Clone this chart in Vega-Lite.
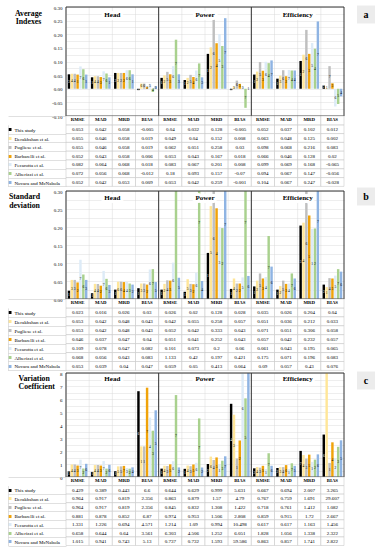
{
"$schema":"https://vega.github.io/schema/vega-lite/v6.json",
"autosize":"none","width":278,"height":550,
"padding":{"left":66,"right":36,"top":0,"bottom":0},
"background":"white",
"config":{"view":{"stroke":null},"font":"Liberation Serif","text":{"font":"Liberation Serif","color":"#000"},
 "axis":{"labelFont":"Liberation Serif","titleFont":"Liberation Serif","labelColor":"#000","titleColor":"#000"},
 "axisX":{"disable":true}},
"datasets":{
"cols":[{"c":"Head RMSE","m":"RMSE"},{"c":"Head MAD","m":"MAD"},{"c":"Head MRD","m":"MRD"},{"c":"Head BIAS","m":"BIAS"},{"c":"Power RMSE","m":"RMSE"},{"c":"Power MAD","m":"MAD"},{"c":"Power MRD","m":"MRD"},{"c":"Power BIAS","m":"BIAS"},{"c":"Efficiency RMSE","m":"RMSE"},{"c":"Efficiency MAD","m":"MAD"},{"c":"Efficiency MRD","m":"MRD"},{"c":"Efficiency BIAS","m":"BIAS"}],
"a":[
{"s":"This study","c":"Head RMSE","v":0.053,"r":3},{"s":"This study","c":"Head MAD","v":0.042,"r":1},{"s":"This study","c":"Head MRD","v":0.058,"r":2},{"s":"This study","c":"Head BIAS","v":-0.005,"r":1},{"s":"This study","c":"Power RMSE","v":0.04,"r":1},{"s":"This study","c":"Power MAD","v":0.032,"r":1},{"s":"This study","c":"Power MRD","v":0.128,"r":1},{"s":"This study","c":"Power BIAS","v":-0.005,"r":2},{"s":"This study","c":"Efficiency RMSE","v":0.052,"r":1},{"s":"This study","c":"Efficiency MAD","v":0.037,"r":1},{"s":"This study","c":"Efficiency MRD","v":0.102,"r":1},{"s":"This study","c":"Efficiency BIAS","v":0.012,"r":2},
{"s":"Derakhshan et al.","c":"Head RMSE","v":0.055,"r":4},{"s":"Derakhshan et al.","c":"Head MAD","v":0.046,"r":4},{"s":"Derakhshan et al.","c":"Head MRD","v":0.058,"r":2},{"s":"Derakhshan et al.","c":"Head BIAS","v":0.019,"r":6},{"s":"Derakhshan et al.","c":"Power RMSE","v":0.049,"r":2},{"s":"Derakhshan et al.","c":"Power MAD","v":0.04,"r":2},{"s":"Derakhshan et al.","c":"Power MRD","v":0.152,"r":2},{"s":"Derakhshan et al.","c":"Power BIAS","v":0.008,"r":3},{"s":"Derakhshan et al.","c":"Efficiency RMSE","v":0.063,"r":2},{"s":"Derakhshan et al.","c":"Efficiency MAD","v":0.048,"r":3},{"s":"Derakhshan et al.","c":"Efficiency MRD","v":0.125,"r":2},{"s":"Derakhshan et al.","c":"Efficiency BIAS","v":0.002,"r":1},
{"s":"Pugliese et al.","c":"Head RMSE","v":0.055,"r":4},{"s":"Pugliese et al.","c":"Head MAD","v":0.046,"r":4},{"s":"Pugliese et al.","c":"Head MRD","v":0.058,"r":2},{"s":"Pugliese et al.","c":"Head BIAS","v":0.019,"r":6},{"s":"Pugliese et al.","c":"Power RMSE","v":0.062,"r":5},{"s":"Pugliese et al.","c":"Power MAD","v":0.051,"r":5},{"s":"Pugliese et al.","c":"Power MRD","v":0.258,"r":6},{"s":"Pugliese et al.","c":"Power BIAS","v":0.03,"r":6},{"s":"Pugliese et al.","c":"Efficiency RMSE","v":0.098,"r":5},{"s":"Pugliese et al.","c":"Efficiency MAD","v":0.068,"r":6},{"s":"Pugliese et al.","c":"Efficiency MRD","v":0.216,"r":6},{"s":"Pugliese et al.","c":"Efficiency BIAS","v":0.083,"r":7},
{"s":"Barbarelli et al.","c":"Head RMSE","v":0.052,"r":1},{"s":"Barbarelli et al.","c":"Head MAD","v":0.043,"r":3},{"s":"Barbarelli et al.","c":"Head MRD","v":0.058,"r":2},{"s":"Barbarelli et al.","c":"Head BIAS","v":0.006,"r":2},{"s":"Barbarelli et al.","c":"Power RMSE","v":0.053,"r":3},{"s":"Barbarelli et al.","c":"Power MAD","v":0.043,"r":4},{"s":"Barbarelli et al.","c":"Power MRD","v":0.167,"r":4},{"s":"Barbarelli et al.","c":"Power BIAS","v":0.018,"r":5},{"s":"Barbarelli et al.","c":"Efficiency RMSE","v":0.066,"r":3},{"s":"Barbarelli et al.","c":"Efficiency MAD","v":0.046,"r":2},{"s":"Barbarelli et al.","c":"Efficiency MRD","v":0.128,"r":3},{"s":"Barbarelli et al.","c":"Efficiency BIAS","v":0.02,"r":3},
{"s":"Fecarotta et al.","c":"Head RMSE","v":0.082,"r":7},{"s":"Fecarotta et al.","c":"Head MAD","v":0.064,"r":7},{"s":"Fecarotta et al.","c":"Head MRD","v":0.068,"r":6},{"s":"Fecarotta et al.","c":"Head BIAS","v":0.018,"r":5},{"s":"Fecarotta et al.","c":"Power RMSE","v":0.083,"r":6},{"s":"Fecarotta et al.","c":"Power MAD","v":0.067,"r":6},{"s":"Fecarotta et al.","c":"Power MRD","v":0.201,"r":5},{"s":"Fecarotta et al.","c":"Power BIAS","v":0.008,"r":3},{"s":"Fecarotta et al.","c":"Efficiency RMSE","v":0.099,"r":6},{"s":"Fecarotta et al.","c":"Efficiency MAD","v":0.069,"r":7},{"s":"Fecarotta et al.","c":"Efficiency MRD","v":0.168,"r":5},{"s":"Fecarotta et al.","c":"Efficiency BIAS","v":-0.065,"r":6},
{"s":"Alberizzi et al.","c":"Head RMSE","v":0.072,"r":6},{"s":"Alberizzi et al.","c":"Head MAD","v":0.056,"r":6},{"s":"Alberizzi et al.","c":"Head MRD","v":0.068,"r":6},{"s":"Alberizzi et al.","c":"Head BIAS","v":-0.012,"r":4},{"s":"Alberizzi et al.","c":"Power RMSE","v":0.18,"r":7},{"s":"Alberizzi et al.","c":"Power MAD","v":0.093,"r":7},{"s":"Alberizzi et al.","c":"Power MRD","v":0.157,"r":3},{"s":"Alberizzi et al.","c":"Power BIAS","v":-0.07,"r":7},{"s":"Alberizzi et al.","c":"Efficiency RMSE","v":0.094,"r":4},{"s":"Alberizzi et al.","c":"Efficiency MAD","v":0.067,"r":4},{"s":"Alberizzi et al.","c":"Efficiency MRD","v":0.147,"r":4},{"s":"Alberizzi et al.","c":"Efficiency BIAS","v":-0.056,"r":5},
{"s":"Novara and McNabola","c":"Head RMSE","v":0.052,"r":1},{"s":"Novara and McNabola","c":"Head MAD","v":0.042,"r":1},{"s":"Novara and McNabola","c":"Head MRD","v":0.053,"r":1},{"s":"Novara and McNabola","c":"Head BIAS","v":0.009,"r":3},{"s":"Novara and McNabola","c":"Power RMSE","v":0.053,"r":3},{"s":"Novara and McNabola","c":"Power MAD","v":0.042,"r":3},{"s":"Novara and McNabola","c":"Power MRD","v":0.259,"r":7},{"s":"Novara and McNabola","c":"Power BIAS","v":-0.001,"r":1},{"s":"Novara and McNabola","c":"Efficiency RMSE","v":0.104,"r":7},{"s":"Novara and McNabola","c":"Efficiency MAD","v":0.067,"r":4},{"s":"Novara and McNabola","c":"Efficiency MRD","v":0.247,"r":7},{"s":"Novara and McNabola","c":"Efficiency BIAS","v":-0.028,"r":4}
],
"b":[
{"s":"This study","c":"Head RMSE","v":0.023,"r":1},{"s":"This study","c":"Head MAD","v":0.016,"r":1},{"s":"This study","c":"Head MRD","v":0.026,"r":1},{"s":"This study","c":"Head BIAS","v":0.03,"r":1},{"s":"This study","c":"Power RMSE","v":0.026,"r":1},{"s":"This study","c":"Power MAD","v":0.02,"r":1},{"s":"This study","c":"Power MRD","v":0.128,"r":1},{"s":"This study","c":"Power BIAS","v":0.028,"r":1},{"s":"This study","c":"Efficiency RMSE","v":0.035,"r":1},{"s":"This study","c":"Efficiency MAD","v":0.026,"r":1},{"s":"This study","c":"Efficiency MRD","v":0.204,"r":3},{"s":"This study","c":"Efficiency BIAS","v":0.04,"r":2},
{"s":"Derakhshan et al.","c":"Head RMSE","v":0.053,"r":3},{"s":"Derakhshan et al.","c":"Head MAD","v":0.042,"r":4},{"s":"Derakhshan et al.","c":"Head MRD","v":0.048,"r":6},{"s":"Derakhshan et al.","c":"Head BIAS","v":0.043,"r":3},{"s":"Derakhshan et al.","c":"Power RMSE","v":0.042,"r":2},{"s":"Derakhshan et al.","c":"Power MAD","v":0.055,"r":5},{"s":"Derakhshan et al.","c":"Power MRD","v":0.258,"r":5},{"s":"Derakhshan et al.","c":"Power BIAS","v":0.057,"r":4},{"s":"Derakhshan et al.","c":"Efficiency RMSE","v":0.051,"r":2},{"s":"Derakhshan et al.","c":"Efficiency MAD","v":0.036,"r":2},{"s":"Derakhshan et al.","c":"Efficiency MRD","v":0.212,"r":4},{"s":"Derakhshan et al.","c":"Efficiency BIAS","v":0.033,"r":1},
{"s":"Pugliese et al.","c":"Head RMSE","v":0.053,"r":3},{"s":"Pugliese et al.","c":"Head MAD","v":0.042,"r":4},{"s":"Pugliese et al.","c":"Head MRD","v":0.048,"r":6},{"s":"Pugliese et al.","c":"Head BIAS","v":0.043,"r":3},{"s":"Pugliese et al.","c":"Power RMSE","v":0.052,"r":4},{"s":"Pugliese et al.","c":"Power MAD","v":0.042,"r":3},{"s":"Pugliese et al.","c":"Power MRD","v":0.333,"r":6},{"s":"Pugliese et al.","c":"Power BIAS","v":0.043,"r":2},{"s":"Pugliese et al.","c":"Efficiency RMSE","v":0.071,"r":5},{"s":"Pugliese et al.","c":"Efficiency MAD","v":0.051,"r":5},{"s":"Pugliese et al.","c":"Efficiency MRD","v":0.306,"r":6},{"s":"Pugliese et al.","c":"Efficiency BIAS","v":0.058,"r":4},
{"s":"Barbarelli et al.","c":"Head RMSE","v":0.046,"r":2},{"s":"Barbarelli et al.","c":"Head MAD","v":0.037,"r":2},{"s":"Barbarelli et al.","c":"Head MRD","v":0.047,"r":4},{"s":"Barbarelli et al.","c":"Head BIAS","v":0.04,"r":2},{"s":"Barbarelli et al.","c":"Power RMSE","v":0.051,"r":3},{"s":"Barbarelli et al.","c":"Power MAD","v":0.041,"r":2},{"s":"Barbarelli et al.","c":"Power MRD","v":0.252,"r":4},{"s":"Barbarelli et al.","c":"Power BIAS","v":0.043,"r":2},{"s":"Barbarelli et al.","c":"Efficiency RMSE","v":0.057,"r":3},{"s":"Barbarelli et al.","c":"Efficiency MAD","v":0.042,"r":3},{"s":"Barbarelli et al.","c":"Efficiency MRD","v":0.232,"r":5},{"s":"Barbarelli et al.","c":"Efficiency BIAS","v":0.057,"r":3},
{"s":"Fecarotta et al.","c":"Head RMSE","v":0.109,"r":7},{"s":"Fecarotta et al.","c":"Head MAD","v":0.078,"r":7},{"s":"Fecarotta et al.","c":"Head MRD","v":0.047,"r":4},{"s":"Fecarotta et al.","c":"Head BIAS","v":0.082,"r":6},{"s":"Fecarotta et al.","c":"Power RMSE","v":0.101,"r":6},{"s":"Fecarotta et al.","c":"Power MAD","v":0.073,"r":6},{"s":"Fecarotta et al.","c":"Power MRD","v":0.2,"r":3},{"s":"Fecarotta et al.","c":"Power BIAS","v":0.06,"r":5},{"s":"Fecarotta et al.","c":"Efficiency RMSE","v":0.061,"r":4},{"s":"Fecarotta et al.","c":"Efficiency MAD","v":0.043,"r":4},{"s":"Fecarotta et al.","c":"Efficiency MRD","v":0.195,"r":1},{"s":"Fecarotta et al.","c":"Efficiency BIAS","v":0.065,"r":5},
{"s":"Alberizzi et al.","c":"Head RMSE","v":0.068,"r":6},{"s":"Alberizzi et al.","c":"Head MAD","v":0.056,"r":6},{"s":"Alberizzi et al.","c":"Head MRD","v":0.043,"r":3},{"s":"Alberizzi et al.","c":"Head BIAS","v":0.083,"r":7},{"s":"Alberizzi et al.","c":"Power RMSE","v":1.133,"r":7},{"s":"Alberizzi et al.","c":"Power MAD","v":0.42,"r":7},{"s":"Alberizzi et al.","c":"Power MRD","v":0.197,"r":2},{"s":"Alberizzi et al.","c":"Power BIAS","v":0.421,"r":7},{"s":"Alberizzi et al.","c":"Efficiency RMSE","v":0.175,"r":7},{"s":"Alberizzi et al.","c":"Efficiency MAD","v":0.071,"r":7},{"s":"Alberizzi et al.","c":"Efficiency MRD","v":0.196,"r":2},{"s":"Alberizzi et al.","c":"Efficiency BIAS","v":0.083,"r":7},
{"s":"Novara and McNabola","c":"Head RMSE","v":0.053,"r":3},{"s":"Novara and McNabola","c":"Head MAD","v":0.039,"r":3},{"s":"Novara and McNabola","c":"Head MRD","v":0.04,"r":2},{"s":"Novara and McNabola","c":"Head BIAS","v":0.047,"r":5},{"s":"Novara and McNabola","c":"Power RMSE","v":0.059,"r":5},{"s":"Novara and McNabola","c":"Power MAD","v":0.05,"r":4},{"s":"Novara and McNabola","c":"Power MRD","v":0.413,"r":7},{"s":"Novara and McNabola","c":"Power BIAS","v":0.064,"r":6},{"s":"Novara and McNabola","c":"Efficiency RMSE","v":0.09,"r":6},{"s":"Novara and McNabola","c":"Efficiency MAD","v":0.057,"r":6},{"s":"Novara and McNabola","c":"Efficiency MRD","v":0.43,"r":7},{"s":"Novara and McNabola","c":"Efficiency BIAS","v":0.076,"r":6}
],
"c":[
{"s":"This study","c":"Head RMSE","v":0.429,"r":1},{"s":"This study","c":"Head MAD","v":0.389,"r":1},{"s":"This study","c":"Head MRD","v":0.443,"r":1},{"s":"This study","c":"Head BIAS","v":6.6,"r":6},{"s":"This study","c":"Power RMSE","v":0.644,"r":1},{"s":"This study","c":"Power MAD","v":0.629,"r":1},{"s":"This study","c":"Power MRD","v":0.999,"r":2},{"s":"This study","c":"Power BIAS","v":5.631,"r":4},{"s":"This study","c":"Efficiency RMSE","v":0.667,"r":2},{"s":"This study","c":"Efficiency MAD","v":0.694,"r":2},{"s":"This study","c":"Efficiency MRD","v":2.007,"r":7},{"s":"This study","c":"Efficiency BIAS","v":3.265,"r":6},
{"s":"Derakhshan et al.","c":"Head RMSE","v":0.964,"r":4},{"s":"Derakhshan et al.","c":"Head MAD","v":0.917,"r":4},{"s":"Derakhshan et al.","c":"Head MRD","v":0.819,"r":5},{"s":"Derakhshan et al.","c":"Head BIAS","v":2.356,"r":1},{"s":"Derakhshan et al.","c":"Power RMSE","v":0.863,"r":4},{"s":"Derakhshan et al.","c":"Power MAD","v":0.879,"r":4},{"s":"Derakhshan et al.","c":"Power MRD","v":1.57,"r":6},{"s":"Derakhshan et al.","c":"Power BIAS","v":4.79,"r":3},{"s":"Derakhshan et al.","c":"Efficiency RMSE","v":0.767,"r":4},{"s":"Derakhshan et al.","c":"Efficiency MAD","v":0.759,"r":3},{"s":"Derakhshan et al.","c":"Efficiency MRD","v":1.691,"r":4},{"s":"Derakhshan et al.","c":"Efficiency BIAS","v":29.607,"r":7},
{"s":"Pugliese et al.","c":"Head RMSE","v":0.964,"r":4},{"s":"Pugliese et al.","c":"Head MAD","v":0.917,"r":4},{"s":"Pugliese et al.","c":"Head MRD","v":0.819,"r":5},{"s":"Pugliese et al.","c":"Head BIAS","v":2.356,"r":1},{"s":"Pugliese et al.","c":"Power RMSE","v":0.845,"r":3},{"s":"Pugliese et al.","c":"Power MAD","v":0.832,"r":3},{"s":"Pugliese et al.","c":"Power MRD","v":1.308,"r":4},{"s":"Pugliese et al.","c":"Power BIAS","v":1.422,"r":1},{"s":"Pugliese et al.","c":"Efficiency RMSE","v":0.718,"r":3},{"s":"Pugliese et al.","c":"Efficiency MAD","v":0.761,"r":4},{"s":"Pugliese et al.","c":"Efficiency MRD","v":1.412,"r":3},{"s":"Pugliese et al.","c":"Efficiency BIAS","v":1.082,"r":1},
{"s":"Barbarelli et al.","c":"Head RMSE","v":0.881,"r":3},{"s":"Barbarelli et al.","c":"Head MAD","v":0.878,"r":3},{"s":"Barbarelli et al.","c":"Head MRD","v":0.852,"r":7},{"s":"Barbarelli et al.","c":"Head BIAS","v":6.87,"r":7},{"s":"Barbarelli et al.","c":"Power RMSE","v":0.974,"r":5},{"s":"Barbarelli et al.","c":"Power MAD","v":0.953,"r":5},{"s":"Barbarelli et al.","c":"Power MRD","v":1.506,"r":5},{"s":"Barbarelli et al.","c":"Power BIAS","v":2.808,"r":2},{"s":"Barbarelli et al.","c":"Efficiency RMSE","v":0.859,"r":5},{"s":"Barbarelli et al.","c":"Efficiency MAD","v":0.915,"r":6},{"s":"Barbarelli et al.","c":"Efficiency MRD","v":1.72,"r":5},{"s":"Barbarelli et al.","c":"Efficiency BIAS","v":2.667,"r":4},
{"s":"Fecarotta et al.","c":"Head RMSE","v":1.331,"r":7},{"s":"Fecarotta et al.","c":"Head MAD","v":1.226,"r":7},{"s":"Fecarotta et al.","c":"Head MRD","v":0.694,"r":3},{"s":"Fecarotta et al.","c":"Head BIAS","v":4.571,"r":4},{"s":"Fecarotta et al.","c":"Power RMSE","v":1.214,"r":6},{"s":"Fecarotta et al.","c":"Power MAD","v":1.09,"r":6},{"s":"Fecarotta et al.","c":"Power MRD","v":0.994,"r":1},{"s":"Fecarotta et al.","c":"Power BIAS","v":10.498,"r":6},{"s":"Fecarotta et al.","c":"Efficiency RMSE","v":0.617,"r":1},{"s":"Fecarotta et al.","c":"Efficiency MAD","v":0.617,"r":1},{"s":"Fecarotta et al.","c":"Efficiency MRD","v":1.163,"r":1},{"s":"Fecarotta et al.","c":"Efficiency BIAS","v":1.456,"r":2},
{"s":"Alberizzi et al.","c":"Head RMSE","v":0.658,"r":2},{"s":"Alberizzi et al.","c":"Head MAD","v":0.644,"r":2},{"s":"Alberizzi et al.","c":"Head MRD","v":0.64,"r":2},{"s":"Alberizzi et al.","c":"Head BIAS","v":3.561,"r":3},{"s":"Alberizzi et al.","c":"Power RMSE","v":6.303,"r":7},{"s":"Alberizzi et al.","c":"Power MAD","v":4.506,"r":7},{"s":"Alberizzi et al.","c":"Power MRD","v":1.252,"r":3},{"s":"Alberizzi et al.","c":"Power BIAS","v":6.051,"r":5},{"s":"Alberizzi et al.","c":"Efficiency RMSE","v":1.828,"r":7},{"s":"Alberizzi et al.","c":"Efficiency MAD","v":1.056,"r":7},{"s":"Alberizzi et al.","c":"Efficiency MRD","v":1.338,"r":2},{"s":"Alberizzi et al.","c":"Efficiency BIAS","v":2.322,"r":3},
{"s":"Novara and McNabola","c":"Head RMSE","v":1.015,"r":6},{"s":"Novara and McNabola","c":"Head MAD","v":0.941,"r":6},{"s":"Novara and McNabola","c":"Head MRD","v":0.743,"r":4},{"s":"Novara and McNabola","c":"Head BIAS","v":5.13,"r":5},{"s":"Novara and McNabola","c":"Power RMSE","v":0.737,"r":2},{"s":"Novara and McNabola","c":"Power MAD","v":0.732,"r":2},{"s":"Novara and McNabola","c":"Power MRD","v":1.593,"r":7},{"s":"Novara and McNabola","c":"Power BIAS","v":59.586,"r":7},{"s":"Novara and McNabola","c":"Efficiency RMSE","v":0.863,"r":6},{"s":"Novara and McNabola","c":"Efficiency MAD","v":0.857,"r":5},{"s":"Novara and McNabola","c":"Efficiency MRD","v":1.741,"r":6},{"s":"Novara and McNabola","c":"Efficiency BIAS","v":2.822,"r":5}
]
},
"resolve":{"scale":{"y":"independent"},"axis":{"y":"independent"}},
"layer":[
{"data":{"values":[{}]},"mark":{"type":"text","text":""},"encoding":{"y":{"datum":0,"type":"quantitative","scale":{"domain":[-0.1,0.3],"range":[116,7],"nice":false,"zero":false},
 "axis":{"orient":"left","values":[-0.1,-0.075,-0.05,-0.025,0,0.025,0.05,0.075,0.1,0.125,0.15,0.175,0.2,0.225,0.25,0.275,0.3],"labelExpr":"abs(datum.value*20-round(datum.value*20))<0.001 ? replace(format(datum.value,'.2f'),'\u2212','-') : ''","grid":true,"gridColor":"#dcdcdc","gridWidth":0.5,"domain":false,"ticks":false,"labelPadding":4,"labelFontSize":5,"labelOverlap":false,"labelFlush":false,"labelBound":false,
 "title":["Average","Indexes"],"titleAngle":0,"titleAlign":"center","titleBaseline":"top","titleX":-38,"titleY":9,"titleFontSize":7.8,"titleFontWeight":"bold","titleLineHeight":8.7}}}},
{"layer":[
 {"data":{"name":"cols"},"mark":{"type":"rule","color":"#d9d9d9","strokeWidth":0.5},"encoding":{"x":{"field":"c","type":"nominal","bandPosition":0},"y":{"datum":-0.1,"type":"quantitative","axis":null},"y2":{"datum":0.3}}},
 {"data":{"name":"a"},"mark":{"type":"bar"},"encoding":{
  "x":{"field":"c","type":"nominal","scale":{"domain":["Head RMSE","Head MAD","Head MRD","Head BIAS","Power RMSE","Power MAD","Power MRD","Power BIAS","Efficiency RMSE","Efficiency MAD","Efficiency MRD","Efficiency BIAS"],"paddingInner":0,"paddingOuter":0}},
  "xOffset":{"field":"s","type":"nominal","scale":{"domain":["This study","Derakhshan et al.","Pugliese et al.","Barbarelli et al.","Fecarotta et al.","Alberizzi et al.","Novara and McNabola"],"paddingInner":0.15,"paddingOuter":0.6}},
  "y":{"field":"v","type":"quantitative","stack":null,"scale":{"domain":[-0.1,0.3],"range":[116,7],"clamp":true,"nice":false,"zero":false},"axis":null},
  "color":{"field":"s","type":"nominal","scale":{"domain":["This study","Derakhshan et al.","Pugliese et al.","Barbarelli et al.","Fecarotta et al.","Alberizzi et al.","Novara and McNabola"],"range":["#000000","#FFE699","#BFBFBF","#F0A30A","#DDEBF7","#A9D18E","#8FB4E3"]},"legend":null}}},
 {"data":{"values":[{"c":"Head RMSE"},{"c":"Power RMSE"},{"c":"Efficiency RMSE"}]},"mark":{"type":"rule","color":"#333333","strokeWidth":1},"encoding":{"x":{"field":"c","type":"nominal","bandPosition":0},"y":{"datum":-0.1,"type":"quantitative","axis":null},"y2":{"datum":0.3}}},
 {"data":{"values":[{"c":"Efficiency BIAS"}]},"mark":{"type":"rule","color":"#333333","strokeWidth":1},"encoding":{"x":{"field":"c","type":"nominal","bandPosition":1},"y":{"datum":-0.1,"type":"quantitative","axis":null},"y2":{"datum":0.3}}},
 {"data":{"values":[{"y":-0.1},{"y":0.3}]},"mark":{"type":"rule","color":"#333333","strokeWidth":1},"encoding":{"y":{"field":"y","type":"quantitative","axis":null}}}
]},
{"data":{"name":"a"},"transform":[{"filter":"datum.v <= 0.6"}],"mark":{"type":"text","fontSize":3.6},"encoding":{"x":{"field":"c","type":"nominal"},"xOffset":{"field":"s","type":"nominal"},
 "y":{"field":"v","type":"quantitative","scale":{"domain":[-0.2,0.6],"range":[116,7],"nice":false,"zero":false},"axis":null},"text":{"field":"r"},
 "color":{"condition":{"test":"datum.s === 'This study'","value":"#ffffff"},"value":"#000000"}}},
{"data":{"values":[{"c":"Head MRD","t":"Head"},{"c":"Power MRD","t":"Power"},{"c":"Efficiency MRD","t":"Efficiency"}]},
 "encoding":{"x":{"field":"c","type":"nominal","bandPosition":0},"y":{"datum":0.272,"type":"quantitative","scale":{"domain":[-0.1,0.3],"range":[116,7]},"axis":null},"text":{"field":"t"}},
 "layer":[
  {"mark":{"type":"text","fontSize":7,"fontWeight":"bold","color":"white","stroke":"white","strokeWidth":6,"strokeJoin":"round"}},
  {"mark":{"type":"text","fontSize":7,"fontWeight":"bold","color":"#000"}}
 ]},
{"data":{"values":[{}]},"mark":{"type":"text","text":""},"encoding":{"y":{"datum":0.5,"type":"quantitative","scale":{"domain":[0,1],"range":[23,5]},"axis":{"orient":"right","offset":21.5,"domain":true,"domainColor":"#ececec","domainWidth":18,"domainCap":"butt","ticks":false,"labels":false,"grid":false,"title":"a","titleAngle":0,"titleX":0,"titleY":14,"titleAlign":"center","titleBaseline":"middle","titleFontSize":10,"titleFontWeight":"bold"}}}},
{"layer":[
 {"data":{"name":"a"},"mark":{"type":"rect","fill":"white","stroke":"#c0c0c0","strokeWidth":0.5},"encoding":{"x":{"field":"c","type":"nominal"},
  "y":{"field":"s","type":"nominal","scale":{"domain":["hdr","This study","Derakhshan et al.","Pugliese et al.","Barbarelli et al.","Fecarotta et al.","Alberizzi et al.","Novara and McNabola"],"range":[116,186.4],"paddingInner":0,"paddingOuter":0},"axis":null}}},
 {"data":{"name":"cols"},"mark":{"type":"rect","fill":"white","stroke":"#c0c0c0","strokeWidth":0.5},"encoding":{"x":{"field":"c","type":"nominal"},"y":{"datum":"hdr","type":"nominal","axis":null}}},
 {"data":{"name":"a"},"mark":{"type":"text","fontSize":5},"encoding":{"x":{"field":"c","type":"nominal"},"y":{"field":"s","type":"nominal","axis":null},"text":{"field":"v","type":"nominal"}}},
 {"data":{"name":"cols"},"mark":{"type":"text","fontSize":4.8,"fontWeight":"bold"},"encoding":{"x":{"field":"c","type":"nominal"},"y":{"datum":"hdr","type":"nominal","axis":null},"text":{"field":"m"}}}
]},
{"data":{"values":[{}]},"mark":{"type":"text","text":""},"encoding":{"y":{"datum":"hdr","type":"nominal","scale":{"domain":["hdr","This study","Derakhshan et al.","Pugliese et al.","Barbarelli et al.","Fecarotta et al.","Alberizzi et al.","Novara and McNabola"],"range":[116,186.4],"paddingInner":0,"paddingOuter":0},
 "axis":{"orient":"left","domain":false,"grid":false,"ticks":true,"tickBand":"extent","tickSize":58,"tickColor":"#c0c0c0","tickWidth":0.5,"tickOpacity":{"condition":{"test":"datum.value === 'hdr'","value":0},"value":1},"labels":false,"title":null}}}},
{"data":{"name":"a"},"mark":{"type":"text","text":""},"encoding":{"y":{"field":"s","type":"nominal","scale":{"domain":["This study","Derakhshan et al.","Pugliese et al.","Barbarelli et al.","Fecarotta et al.","Alberizzi et al.","Novara and McNabola"],"range":[124.8,186.4],"paddingInner":0,"paddingOuter":0},
 "axis":{"orient":"left","offset":55,"domain":false,"grid":false,"ticks":true,"tickSize":3,"tickWidth":3,"tickColor":{"condition":[{"test":"datum.value === 'This study'","value":"#000000"},{"test":"datum.value === 'Derakhshan et al.'","value":"#FFE699"},{"test":"datum.value === 'Pugliese et al.'","value":"#BFBFBF"},{"test":"datum.value === 'Barbarelli et al.'","value":"#F0A30A"},{"test":"datum.value === 'Fecarotta et al.'","value":"#DDEBF7"},{"test":"datum.value === 'Alberizzi et al.'","value":"#A9D18E"}],"value":"#8FB4E3"},"labelAlign":"left","labelBaseline":"middle","labelPadding":-6,"labelFontSize":5,"labelOverlap":false,"labelLimit":0,"title":null}}}},
{"data":{"name":"a"},"mark":{"type":"text","text":""},"encoding":{"y":{"field":"s","type":"nominal","scale":{"domain":["This study","Derakhshan et al.","Pugliese et al.","Barbarelli et al.","Fecarotta et al.","Alberizzi et al.","Novara and McNabola"],"range":[124.8,186.4],"paddingInner":0,"paddingOuter":0},
 "axis":{"orient":"left","offset":58,"domain":true,"domainColor":"#c0c0c0","domainWidth":0.5,"ticks":false,"labels":false,"grid":false,"title":null}}}},

{"data":{"values":[{}]},"mark":{"type":"text","text":""},"encoding":{"y":{"datum":0,"type":"quantitative","scale":{"domain":[0,0.3],"range":[299,191],"nice":false,"zero":false},
 "axis":{"orient":"left","values":[0,0.025,0.05,0.075,0.1,0.125,0.15,0.175,0.2,0.225,0.25,0.275,0.3],"labelExpr":"abs(datum.value*20-round(datum.value*20))<0.001 ? format(datum.value,'.2f') : ''","grid":true,"gridColor":"#dcdcdc","gridWidth":0.5,"domain":false,"ticks":false,"labelPadding":4,"labelFontSize":5,"labelOverlap":false,"labelFlush":false,"labelBound":false,
 "title":["Standard","deviation"],"titleAngle":0,"titleAlign":"center","titleBaseline":"top","titleX":-42,"titleY":192.5,"titleFontSize":7.8,"titleFontWeight":"bold","titleLineHeight":8.7}}}},
{"layer":[
 {"data":{"name":"cols"},"mark":{"type":"rule","color":"#d9d9d9","strokeWidth":0.5},"encoding":{"x":{"field":"c","type":"nominal","bandPosition":0},"y":{"datum":0,"type":"quantitative","axis":null},"y2":{"datum":0.3}}},
 {"data":{"name":"b"},"mark":{"type":"bar"},"encoding":{
  "x":{"field":"c","type":"nominal"},
  "xOffset":{"field":"s","type":"nominal"},
  "y":{"field":"v","type":"quantitative","stack":null,"scale":{"domain":[0,0.3],"range":[299,191],"clamp":true,"nice":false,"zero":false},"axis":null},
  "color":{"field":"s","type":"nominal","legend":null}}},
 {"data":{"values":[{"c":"Head RMSE"},{"c":"Power RMSE"},{"c":"Efficiency RMSE"}]},"mark":{"type":"rule","color":"#333333","strokeWidth":1},"encoding":{"x":{"field":"c","type":"nominal","bandPosition":0},"y":{"datum":0,"type":"quantitative","axis":null},"y2":{"datum":0.3}}},
 {"data":{"values":[{"c":"Efficiency BIAS"}]},"mark":{"type":"rule","color":"#333333","strokeWidth":1},"encoding":{"x":{"field":"c","type":"nominal","bandPosition":1},"y":{"datum":0,"type":"quantitative","axis":null},"y2":{"datum":0.3}}},
 {"data":{"values":[{"y":0},{"y":0.3}]},"mark":{"type":"rule","color":"#333333","strokeWidth":1},"encoding":{"y":{"field":"y","type":"quantitative","axis":null}}}
]},
{"data":{"name":"b"},"transform":[{"filter":"datum.v <= 0.6"}],"mark":{"type":"text","fontSize":3.6},"encoding":{"x":{"field":"c","type":"nominal"},"xOffset":{"field":"s","type":"nominal"},
 "y":{"field":"v","type":"quantitative","scale":{"domain":[0,0.6],"range":[299,191],"nice":false,"zero":false},"axis":null},"text":{"field":"r"},
 "color":{"condition":{"test":"datum.s === 'This study'","value":"#ffffff"},"value":"#000000"}}},
{"data":{"values":[{"c":"Head MRD","t":"Head"},{"c":"Power MRD","t":"Power"},{"c":"Efficiency MRD","t":"Efficiency"}]},
 "encoding":{"x":{"field":"c","type":"nominal","bandPosition":0},"y":{"datum":0.2806,"type":"quantitative","scale":{"domain":[0,0.3],"range":[299,191]},"axis":null},"text":{"field":"t"}},
 "layer":[
  {"mark":{"type":"text","fontSize":7,"fontWeight":"bold","color":"white","stroke":"white","strokeWidth":6,"strokeJoin":"round"}},
  {"mark":{"type":"text","fontSize":7,"fontWeight":"bold","color":"#000"}}
 ]},
{"data":{"values":[{}]},"mark":{"type":"text","text":""},"encoding":{"y":{"datum":0.5,"type":"quantitative","scale":{"domain":[0,1],"range":[205,187]},"axis":{"orient":"right","offset":21.5,"domain":true,"domainColor":"#ececec","domainWidth":18,"domainCap":"butt","ticks":false,"labels":false,"grid":false,"title":"b","titleAngle":0,"titleX":0,"titleY":196,"titleAlign":"center","titleBaseline":"middle","titleFontSize":10,"titleFontWeight":"bold"}}}},
{"layer":[
 {"data":{"name":"b"},"mark":{"type":"rect","fill":"white","stroke":"#c0c0c0","strokeWidth":0.5},"encoding":{"x":{"field":"c","type":"nominal"},
  "y":{"field":"s","type":"nominal","scale":{"domain":["hdr","This study","Derakhshan et al.","Pugliese et al.","Barbarelli et al.","Fecarotta et al.","Alberizzi et al.","Novara and McNabola"],"range":[299,370.4],"paddingInner":0,"paddingOuter":0},"axis":null}}},
 {"data":{"name":"cols"},"mark":{"type":"rect","fill":"white","stroke":"#c0c0c0","strokeWidth":0.5},"encoding":{"x":{"field":"c","type":"nominal"},"y":{"datum":"hdr","type":"nominal","axis":null}}},
 {"data":{"name":"b"},"mark":{"type":"text","fontSize":5},"encoding":{"x":{"field":"c","type":"nominal"},"y":{"field":"s","type":"nominal","axis":null},"text":{"field":"v","type":"nominal"}}},
 {"data":{"name":"cols"},"mark":{"type":"text","fontSize":4.8,"fontWeight":"bold"},"encoding":{"x":{"field":"c","type":"nominal"},"y":{"datum":"hdr","type":"nominal","axis":null},"text":{"field":"m"}}}
]},
{"data":{"values":[{}]},"mark":{"type":"text","text":""},"encoding":{"y":{"datum":"hdr","type":"nominal","scale":{"domain":["hdr","This study","Derakhshan et al.","Pugliese et al.","Barbarelli et al.","Fecarotta et al.","Alberizzi et al.","Novara and McNabola"],"range":[299,370.4],"paddingInner":0,"paddingOuter":0},
 "axis":{"orient":"left","domain":false,"grid":false,"ticks":true,"tickBand":"extent","tickSize":58,"tickColor":"#c0c0c0","tickWidth":0.5,"tickOpacity":{"condition":{"test":"datum.value === 'hdr'","value":0},"value":1},"labels":false,"title":null}}}},
{"data":{"name":"b"},"mark":{"type":"text","text":""},"encoding":{"y":{"field":"s","type":"nominal","scale":{"domain":["This study","Derakhshan et al.","Pugliese et al.","Barbarelli et al.","Fecarotta et al.","Alberizzi et al.","Novara and McNabola"],"range":[307.925,370.4],"paddingInner":0,"paddingOuter":0},
 "axis":{"orient":"left","offset":55,"domain":false,"grid":false,"ticks":true,"tickSize":3,"tickWidth":3,"tickColor":{"condition":[{"test":"datum.value === 'This study'","value":"#000000"},{"test":"datum.value === 'Derakhshan et al.'","value":"#FFE699"},{"test":"datum.value === 'Pugliese et al.'","value":"#BFBFBF"},{"test":"datum.value === 'Barbarelli et al.'","value":"#F0A30A"},{"test":"datum.value === 'Fecarotta et al.'","value":"#DDEBF7"},{"test":"datum.value === 'Alberizzi et al.'","value":"#A9D18E"}],"value":"#8FB4E3"},"labelAlign":"left","labelBaseline":"middle","labelPadding":-6,"labelFontSize":5,"labelOverlap":false,"labelLimit":0,"title":null}}}},
{"data":{"name":"b"},"mark":{"type":"text","text":""},"encoding":{"y":{"field":"s","type":"nominal","scale":{"domain":["This study","Derakhshan et al.","Pugliese et al.","Barbarelli et al.","Fecarotta et al.","Alberizzi et al.","Novara and McNabola"],"range":[307.925,370.4],"paddingInner":0,"paddingOuter":0},
 "axis":{"orient":"left","offset":58,"domain":true,"domainColor":"#c0c0c0","domainWidth":0.5,"ticks":false,"labels":false,"grid":false,"title":null}}}},

{"data":{"values":[{}]},"mark":{"type":"text","text":""},"encoding":{"y":{"datum":0,"type":"quantitative","scale":{"domain":[0,8],"range":[477,373],"nice":false,"zero":false},
 "axis":{"orient":"left","values":[0,0.5,1,1.5,2,2.5,3,3.5,4,4.5,5,5.5,6,6.5,7,7.5,8],"labelExpr":"datum.value % 1 === 0 ? '' + datum.value : ''","grid":true,"gridColor":"#dcdcdc","gridWidth":0.5,"domain":false,"ticks":false,"labelPadding":4,"labelFontSize":5,"labelOverlap":false,"labelFlush":false,"labelBound":false,
 "title":["Variation","Coefficient"],"titleAngle":0,"titleAlign":"left","titleBaseline":"top","titleX":-48,"titleY":374,"titleFontSize":7.8,"titleFontWeight":"bold","titleLineHeight":8.7}}}},
{"layer":[
 {"data":{"name":"cols"},"mark":{"type":"rule","color":"#d9d9d9","strokeWidth":0.5},"encoding":{"x":{"field":"c","type":"nominal","bandPosition":0},"y":{"datum":0,"type":"quantitative","axis":null},"y2":{"datum":8}}},
 {"data":{"name":"c"},"mark":{"type":"bar"},"encoding":{
  "x":{"field":"c","type":"nominal"},
  "xOffset":{"field":"s","type":"nominal"},
  "y":{"field":"v","type":"quantitative","stack":null,"scale":{"domain":[0,8],"range":[477,373],"clamp":true,"nice":false,"zero":false},"axis":null},
  "color":{"field":"s","type":"nominal","legend":null}}},
 {"data":{"values":[{"c":"Head RMSE"},{"c":"Power RMSE"},{"c":"Efficiency RMSE"}]},"mark":{"type":"rule","color":"#333333","strokeWidth":1},"encoding":{"x":{"field":"c","type":"nominal","bandPosition":0},"y":{"datum":0,"type":"quantitative","axis":null},"y2":{"datum":8}}},
 {"data":{"values":[{"c":"Efficiency BIAS"}]},"mark":{"type":"rule","color":"#333333","strokeWidth":1},"encoding":{"x":{"field":"c","type":"nominal","bandPosition":1},"y":{"datum":0,"type":"quantitative","axis":null},"y2":{"datum":8}}},
 {"data":{"values":[{"y":0},{"y":8}]},"mark":{"type":"rule","color":"#333333","strokeWidth":1},"encoding":{"y":{"field":"y","type":"quantitative","axis":null}}}
]},
{"data":{"name":"c"},"transform":[{"filter":"datum.v <= 16"}],"mark":{"type":"text","fontSize":3.6},"encoding":{"x":{"field":"c","type":"nominal"},"xOffset":{"field":"s","type":"nominal"},
 "y":{"field":"v","type":"quantitative","scale":{"domain":[0,16],"range":[477,373],"nice":false,"zero":false},"axis":null},"text":{"field":"r"},
 "color":{"condition":{"test":"datum.s === 'This study'","value":"#ffffff"},"value":"#000000"}}},
{"data":{"values":[{"c":"Head MRD","t":"Head"},{"c":"Power MRD","t":"Power"},{"c":"Efficiency MRD","t":"Efficiency"}]},
 "encoding":{"x":{"field":"c","type":"nominal","bandPosition":0},"y":{"datum":7.54,"type":"quantitative","scale":{"domain":[0,8],"range":[477,373]},"axis":null},"text":{"field":"t"}},
 "layer":[
  {"mark":{"type":"text","fontSize":7,"fontWeight":"bold","color":"white","stroke":"white","strokeWidth":6,"strokeJoin":"round"}},
  {"mark":{"type":"text","fontSize":7,"fontWeight":"bold","color":"#000"}}
 ]},
{"data":{"values":[{}]},"mark":{"type":"text","text":""},"encoding":{"y":{"datum":0.5,"type":"quantitative","scale":{"domain":[0,1],"range":[389,371]},"axis":{"orient":"right","offset":21.5,"domain":true,"domainColor":"#ececec","domainWidth":18,"domainCap":"butt","ticks":false,"labels":false,"grid":false,"title":"c","titleAngle":0,"titleX":0,"titleY":380,"titleAlign":"center","titleBaseline":"middle","titleFontSize":10,"titleFontWeight":"bold"}}}},
{"layer":[
 {"data":{"name":"c"},"mark":{"type":"rect","fill":"white","stroke":"#c0c0c0","strokeWidth":0.5},"encoding":{"x":{"field":"c","type":"nominal"},
  "y":{"field":"s","type":"nominal","scale":{"domain":["hdr","This study","Derakhshan et al.","Pugliese et al.","Barbarelli et al.","Fecarotta et al.","Alberizzi et al.","Novara and McNabola"],"range":[477,545.5],"paddingInner":0,"paddingOuter":0},"axis":null}}},
 {"data":{"name":"cols"},"mark":{"type":"rect","fill":"white","stroke":"#c0c0c0","strokeWidth":0.5},"encoding":{"x":{"field":"c","type":"nominal"},"y":{"datum":"hdr","type":"nominal","axis":null}}},
 {"data":{"name":"c"},"mark":{"type":"text","fontSize":5},"encoding":{"x":{"field":"c","type":"nominal"},"y":{"field":"s","type":"nominal","axis":null},"text":{"field":"v","type":"nominal"}}},
 {"data":{"name":"cols"},"mark":{"type":"text","fontSize":4.8,"fontWeight":"bold"},"encoding":{"x":{"field":"c","type":"nominal"},"y":{"datum":"hdr","type":"nominal","axis":null},"text":{"field":"m"}}}
]},
{"data":{"values":[{}]},"mark":{"type":"text","text":""},"encoding":{"y":{"datum":"hdr","type":"nominal","scale":{"domain":["hdr","This study","Derakhshan et al.","Pugliese et al.","Barbarelli et al.","Fecarotta et al.","Alberizzi et al.","Novara and McNabola"],"range":[477,545.5],"paddingInner":0,"paddingOuter":0},
 "axis":{"orient":"left","domain":false,"grid":false,"ticks":true,"tickBand":"extent","tickSize":58,"tickColor":"#c0c0c0","tickWidth":0.5,"tickOpacity":{"condition":{"test":"datum.value === 'hdr'","value":0},"value":1},"labels":false,"title":null}}}},
{"data":{"name":"c"},"mark":{"type":"text","text":""},"encoding":{"y":{"field":"s","type":"nominal","scale":{"domain":["This study","Derakhshan et al.","Pugliese et al.","Barbarelli et al.","Fecarotta et al.","Alberizzi et al.","Novara and McNabola"],"range":[485.5625,545.5],"paddingInner":0,"paddingOuter":0},
 "axis":{"orient":"left","offset":55,"domain":false,"grid":false,"ticks":true,"tickSize":3,"tickWidth":3,"tickColor":{"condition":[{"test":"datum.value === 'This study'","value":"#000000"},{"test":"datum.value === 'Derakhshan et al.'","value":"#FFE699"},{"test":"datum.value === 'Pugliese et al.'","value":"#BFBFBF"},{"test":"datum.value === 'Barbarelli et al.'","value":"#F0A30A"},{"test":"datum.value === 'Fecarotta et al.'","value":"#DDEBF7"},{"test":"datum.value === 'Alberizzi et al.'","value":"#A9D18E"}],"value":"#8FB4E3"},"labelAlign":"left","labelBaseline":"middle","labelPadding":-6,"labelFontSize":5,"labelOverlap":false,"labelLimit":0,"title":null}}}},
{"data":{"name":"c"},"mark":{"type":"text","text":""},"encoding":{"y":{"field":"s","type":"nominal","scale":{"domain":["This study","Derakhshan et al.","Pugliese et al.","Barbarelli et al.","Fecarotta et al.","Alberizzi et al.","Novara and McNabola"],"range":[485.5625,545.5],"paddingInner":0,"paddingOuter":0},
 "axis":{"orient":"left","offset":58,"domain":true,"domainColor":"#c0c0c0","domainWidth":0.5,"ticks":false,"labels":false,"grid":false,"title":null}}}}
]
}
